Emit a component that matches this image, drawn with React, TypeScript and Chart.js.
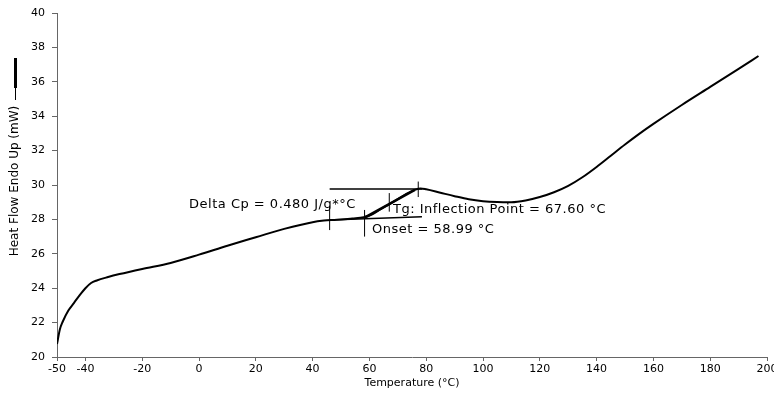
import React, { useEffect, useRef } from 'react';
import { Chart, registerables } from 'chart.js';

Chart.register(...registerables);

// ---- data ----
const temperatures = [-50, -49, -48, -46, -44, -42, -40, -38, -36, -32, -28, -20, -10, 0, 10, 20, 30, 40, 44, 47, 50, 54, 58, 61, 64, 67, 70, 73, 76, 78, 80, 85, 90, 95, 100, 105, 110, 115, 120, 125, 130, 135, 140, 145, 150, 155, 160, 170, 180, 190, 197];
const heatFlow = [20.75, 21.6, 22.05, 22.7, 23.15, 23.6, 24.0, 24.3, 24.45, 24.65, 24.82, 25.12, 25.47, 25.95, 26.47, 26.96, 27.45, 27.84, 27.93, 27.97, 28.0, 28.05, 28.12, 28.3, 28.6, 28.88, 29.18, 29.48, 29.72, 29.8, 29.75, 29.55, 29.35, 29.17, 29.06, 29.01, 29.0, 29.1, 29.3, 29.58, 29.95, 30.45, 31.05, 31.7, 32.35, 32.97, 33.55, 34.65, 35.7, 36.75, 37.5];

const xTickValues = [-50, -40, -20, 0, 20, 40, 60, 80, 100, 120, 140, 160, 180, 200];
const yTickValues = [20, 22, 24, 26, 28, 30, 32, 34, 36, 38, 40];

// analysis construction lines (x values / y values)
const upperBaselineX = [46, 78.5];
const upperBaselineY = [29.77, 29.77];
const lowerBaselineX = [46, 78.5];
const lowerBaselineY = [27.97, 28.15];
const tangentX = [58.3, 76];
const tangentY = [28.1, 29.72];
const markerX = [46, 58.3, 67, 77.2];
const markerLow = [27.38, 27.0, 28.45, 29.3];
const markerHigh = [28.74, 28.55, 29.53, 30.2];

const labelTexts = ['Delta Cp = 0.480 J/g*°C', 'Tg: Inflection Point = 67.60 °C', 'Onset = 58.99 °C'];
const labelX = [-3.5, 68.3, 60.9];
const labelY = [28.84, 28.55, 27.38];

const xTitle = 'Temperature (°C)';
const yTitle = 'Heat Flow Endo Up (mW)';

const FONT = 'DejaVu Sans';

const pairs = (xs: number[], ys: number[]) => xs.map((x, i) => ({ x, y: ys[i] }));

const segment = (data: { x: number; y: number }[], width: number) => ({
  data,
  borderColor: '#000',
  borderWidth: width,
  pointRadius: 0,
  fill: false,
  tension: 0,
});

export default function App() {
  const ref = useRef<HTMLCanvasElement | null>(null);

  useEffect(() => {
    if (!ref.current) return;

    const datasets: any[] = [
      {
        data: pairs(temperatures, heatFlow),
        borderColor: '#000',
        borderWidth: 2,
        pointRadius: 0,
        fill: false,
        cubicInterpolationMode: 'monotone',
      },
      segment(pairs(upperBaselineX, upperBaselineY), 1.5),
      segment(pairs(lowerBaselineX, lowerBaselineY), 1.5),
      segment(pairs(tangentX, tangentY), 2.5),
    ];
    markerX.forEach((mx, i) => {
      datasets.push(segment([{ x: mx, y: markerLow[i] }, { x: mx, y: markerHigh[i] }], 1));
    });

    const overlay = {
      id: 'overlay',
      afterDraw(chart: any) {
        const ctx = chart.ctx;
        const xs = chart.scales.x;
        const ys = chart.scales.y;
        ctx.save();
        ctx.fillStyle = '#000';
        ctx.font = `13px "${FONT}"`;
        (ctx as any).letterSpacing = '0.5px';
        ctx.textAlign = 'left';
        ctx.textBaseline = 'middle';
        labelTexts.forEach((t, i) => {
          ctx.fillText(t, xs.getPixelForValue(labelX[i]), ys.getPixelForValue(labelY[i]));
        });
        (ctx as any).letterSpacing = '0px';
        // y-axis title with legend marker
        ctx.translate(15, 181);
        ctx.rotate(-Math.PI / 2);
        ctx.textAlign = 'center';
        ctx.font = `12px "${FONT}"`;
        ctx.fillText(yTitle, 0, 0);
        ctx.restore();
        ctx.save();
        ctx.strokeStyle = '#000';
        ctx.lineWidth = 1;
        ctx.beginPath();
        ctx.moveTo(15.5, 85);
        ctx.lineTo(15.5, 100);
        ctx.stroke();
        ctx.lineWidth = 3;
        ctx.beginPath();
        ctx.moveTo(15.5, 58);
        ctx.lineTo(15.5, 88);
        ctx.stroke();
        ctx.restore();
      },
    };

    const chart = new Chart(ref.current, {
      type: 'line',
      data: { datasets },
      options: {
        animation: false,
        responsive: false,
        devicePixelRatio: 1,
        layout: { padding: { top: 13, right: 7, left: 0, bottom: 0 } },
        plugins: { legend: { display: false }, tooltip: { enabled: false } },
        scales: {
          x: {
            type: 'linear',
            min: -50,
            max: 200,
            afterBuildTicks: (s: any) => {
              s.ticks = xTickValues.map((v) => ({ value: v }));
            },
            afterFit: (s: any) => {
              s.height = 40;
              s.paddingLeft = 0;
              s.paddingRight = 0;
            },
            ticks: {
              autoSkip: false,
              maxRotation: 0,
              padding: 2,
              color: '#000',
              font: { family: FONT, size: 11 },
            },
            grid: { drawOnChartArea: false, drawTicks: true, tickLength: 4, color: '#666' },
            border: { display: true, color: '#666', width: 1 },
            title: {
              display: true,
              text: xTitle,
              color: '#000',
              font: { family: FONT, size: 11 },
              padding: { top: 7, bottom: 7 },
            },
          },
          y: {
            type: 'linear',
            min: 20,
            max: 40,
            afterBuildTicks: (s: any) => {
              s.ticks = yTickValues.map((v) => ({ value: v }));
            },
            afterFit: (s: any) => {
              s.width = 57;
              s.paddingTop = 0;
              s.paddingBottom = 0;
            },
            ticks: {
              autoSkip: false,
              padding: 7,
              color: '#000',
              font: { family: FONT, size: 11 },
            },
            grid: { drawOnChartArea: false, drawTicks: true, tickLength: 5, color: '#666' },
            border: { display: true, color: '#666', width: 1 },
          },
        },
      },
      plugins: [overlay],
    } as any);

    return () => chart.destroy();
  }, []);

  return (
    <div style={{ position: 'fixed', left: 0, top: 0, width: 774, height: 397, background: '#fff' }}>
      <canvas ref={ref} width={774} height={397} style={{ display: 'block' }} />
    </div>
  );
}
